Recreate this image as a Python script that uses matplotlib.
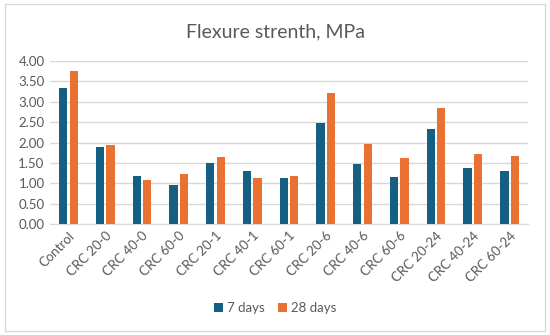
import matplotlib.pyplot as plt
import numpy as np
from matplotlib.patches import Rectangle

plt.rcParams['font.family'] = ['Lato', 'DejaVu Sans']

categories = ["Control", "CRC 20-0", "CRC 40-0", "CRC 60-0", "CRC 20-1", "CRC 40-1",
              "CRC 60-1", "CRC 20-6", "CRC 40-6", "CRC 60-6", "CRC 20-24", "CRC 40-24",
              "CRC 60-24"]
days7 = [3.33, 1.90, 1.18, 0.97, 1.51, 1.30, 1.14, 2.47, 1.47, 1.15, 2.32, 1.37, 1.30]
days28 = [3.75, 1.95, 1.09, 1.23, 1.65, 1.12, 1.19, 3.22, 1.97, 1.62, 2.84, 1.72, 1.67]
yticks = [0.0, 0.5, 1.0, 1.5, 2.0, 2.5, 3.0, 3.5, 4.0]

blue = "#156082"
orange = "#E97132"
grey = "#595959"

fig = plt.figure(figsize=(5.5, 3.35), dpi=100)
fig.patches.append(Rectangle((0.009, 0.012), 0.982, 0.976, transform=fig.transFigure,
                             fill=False, edgecolor="#D9D9D9", linewidth=1))
ax = fig.add_axes([0.091, 0.331, 0.869, 0.487])

x = np.arange(len(categories))
w = 0.225
gap = 0.06
ax.bar(x - (w + gap) / 2, days7, width=w, color=blue, label="7 days", zorder=3)
ax.bar(x + (w + gap) / 2, days28, width=w, color=orange, label="28 days", zorder=3)

ax.set_xlim(-0.5, len(categories) - 0.5)
ax.set_ylim(0, 4)
ax.set_yticks(yticks)
ax.set_yticklabels(["{:.2f}".format(t) for t in yticks], color=grey, fontsize=9.5)
ax.set_xticks(x)
ax.set_xticklabels(categories, rotation=45, ha="right", rotation_mode="anchor",
                   color=grey, fontsize=9.5)
ax.tick_params(length=0, pad=4)
ax.yaxis.grid(True, color="#D9D9D9", linewidth=1, zorder=0)
for s in ["top", "right", "left"]:
    ax.spines[s].set_visible(False)
ax.spines["bottom"].set_color("#D9D9D9")

fig.text(0.5, 0.905, "Flexure strenth, MPa", ha="center", va="center",
         fontsize=14, color=grey)
fig.legend(loc="center", bbox_to_anchor=(0.5, 0.08), ncol=2, frameon=False,
           fontsize=9.5, handlelength=0.7, handleheight=0.7, handletextpad=0.3,
           columnspacing=1.0, labelcolor=grey)

fig.savefig("out.png", dpi=100)
